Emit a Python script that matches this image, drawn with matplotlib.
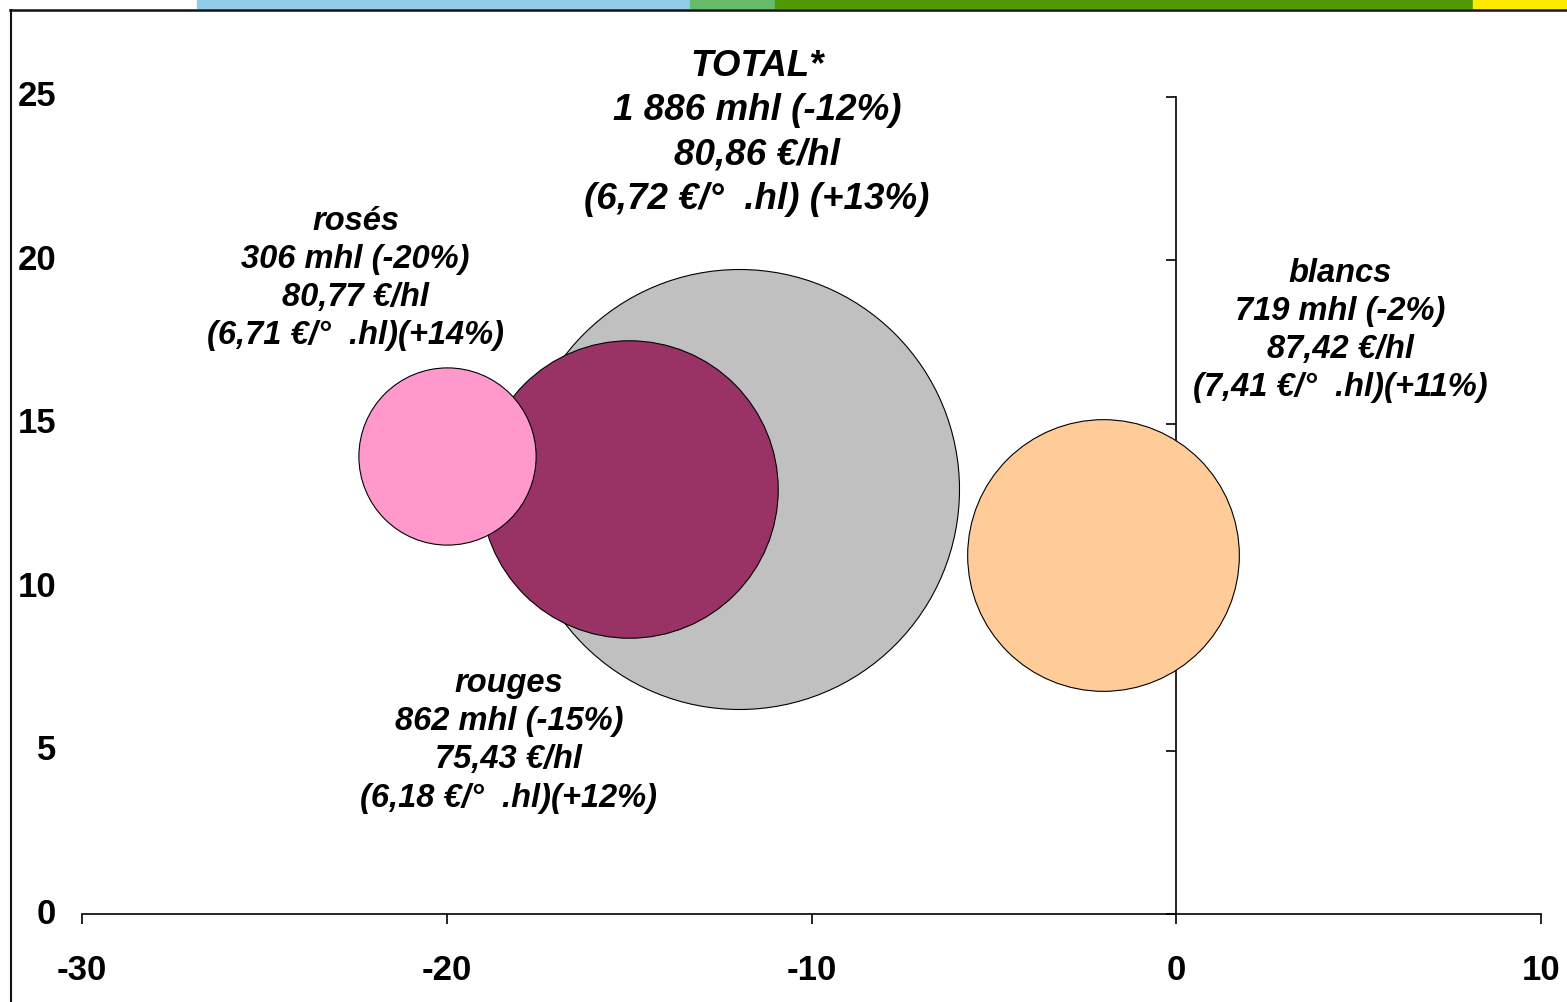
import matplotlib
matplotlib.use("Agg")
import matplotlib.pyplot as plt
from matplotlib.patches import Rectangle
from matplotlib.lines import Line2D

plt.rcParams['font.family'] = ['Liberation Sans', 'DejaVu Sans']
plt.rcParams['axes.unicode_minus'] = False

# data: x = volume change (%), y = price change (%), size = volume (mhl)
names = ["TOTAL*", "rouges", "rosés", "blancs"]
vol_change = [-12, -15, -20, -2]
price_change = [13, 13, 14, 11]
volumes = [1886, 862, 306, 719]
colors = ["#C0C0C0", "#993366", "#FF99CC", "#FFCC99"]

labels = [
    "TOTAL*\n1 886 mhl (-12%)\n80,86 €/hl\n(6,72 €/°  .hl) (+13%)",
    "rouges\n862 mhl (-15%)\n75,43 €/hl\n(6,18 €/°  .hl)(+12%)",
    "rosés\n306 mhl (-20%)\n80,77 €/hl\n(6,71 €/°  .hl)(+14%)",
    "blancs\n719 mhl (-2%)\n87,42 €/hl\n(7,41 €/°  .hl)(+11%)",
]
label_pos = [(-11.5, 23.9), (-18.3, 5.3), (-22.5, 19.45), (4.5, 17.85)]
label_size = [26.5, 23.5, 23.5, 23.5]
label_spacing = [1.34, 1.3, 1.3, 1.3]

xticks = [-30, -20, -10, 0, 10]
yticks = [0, 5, 10, 15, 20, 25]

W, H = 1567, 1002
fig = plt.figure(figsize=(W / 100, H / 100), dpi=100)
ax = fig.add_axes([82 / W, 1 - 914 / H, (1541 - 82) / W, (914 - 97) / H])
ax.set_xlim(-30, 10)
ax.set_ylim(0, 25)

# bubbles, area proportional to volume
k = (2 * 220 * 0.72) ** 2 / 1886
for i in range(len(names)):
    ax.scatter(vol_change[i], price_change[i], s=volumes[i] * k, c=colors[i],
               edgecolors="black", linewidths=0.8, zorder=3 + i, clip_on=False)

for i in range(len(names)):
    ax.text(label_pos[i][0], label_pos[i][1], labels[i], ha="center", va="center",
            fontsize=label_size[i], fontweight="bold", fontstyle="italic",
            linespacing=label_spacing[i], zorder=10)

# axes styling
for s in ["top", "right"]:
    ax.spines[s].set_visible(False)
ax.spines["left"].set_position(("data", 0))
ax.spines["left"].set_linewidth(1.2)
ax.spines["bottom"].set_linewidth(1.2)
ax.set_xticks(xticks)
ax.set_yticks(yticks)
ax.tick_params(axis="x", direction="out", length=7, width=1.2, pad=22,
               labelsize=25)
ax.tick_params(axis="y", direction="out", length=7, width=1.2, labelleft=False)
for lab in ax.get_xticklabels():
    lab.set_fontweight("bold")
for t in yticks:
    ax.text(-0.0178, t, str(t), transform=ax.get_yaxis_transform(),
            ha="right", va="center", fontsize=25, fontweight="bold")

# top colour band and frame
band = [(197, 690, "#92CCEB"), (690, 775, "#67BC6B"), (775, 1473, "#4F9A00"),
        (1473, 1567, "#FFEB00")]
for x0, x1, c in band:
    fig.patches.append(Rectangle((x0 / W, 1 - 8 / H), (x1 - x0) / W, 8 / H,
                                 transform=fig.transFigure, color=c, zorder=0))
fig.lines.append(Line2D([10 / W, 1], [1 - 10 / H, 1 - 10 / H],
                        transform=fig.transFigure, color="#111111", lw=1.8))
fig.lines.append(Line2D([10.5 / W, 10.5 / W], [0, 1 - 10 / H],
                        transform=fig.transFigure, color="#111111", lw=1.5))

fig.savefig("out.png", dpi=100)
